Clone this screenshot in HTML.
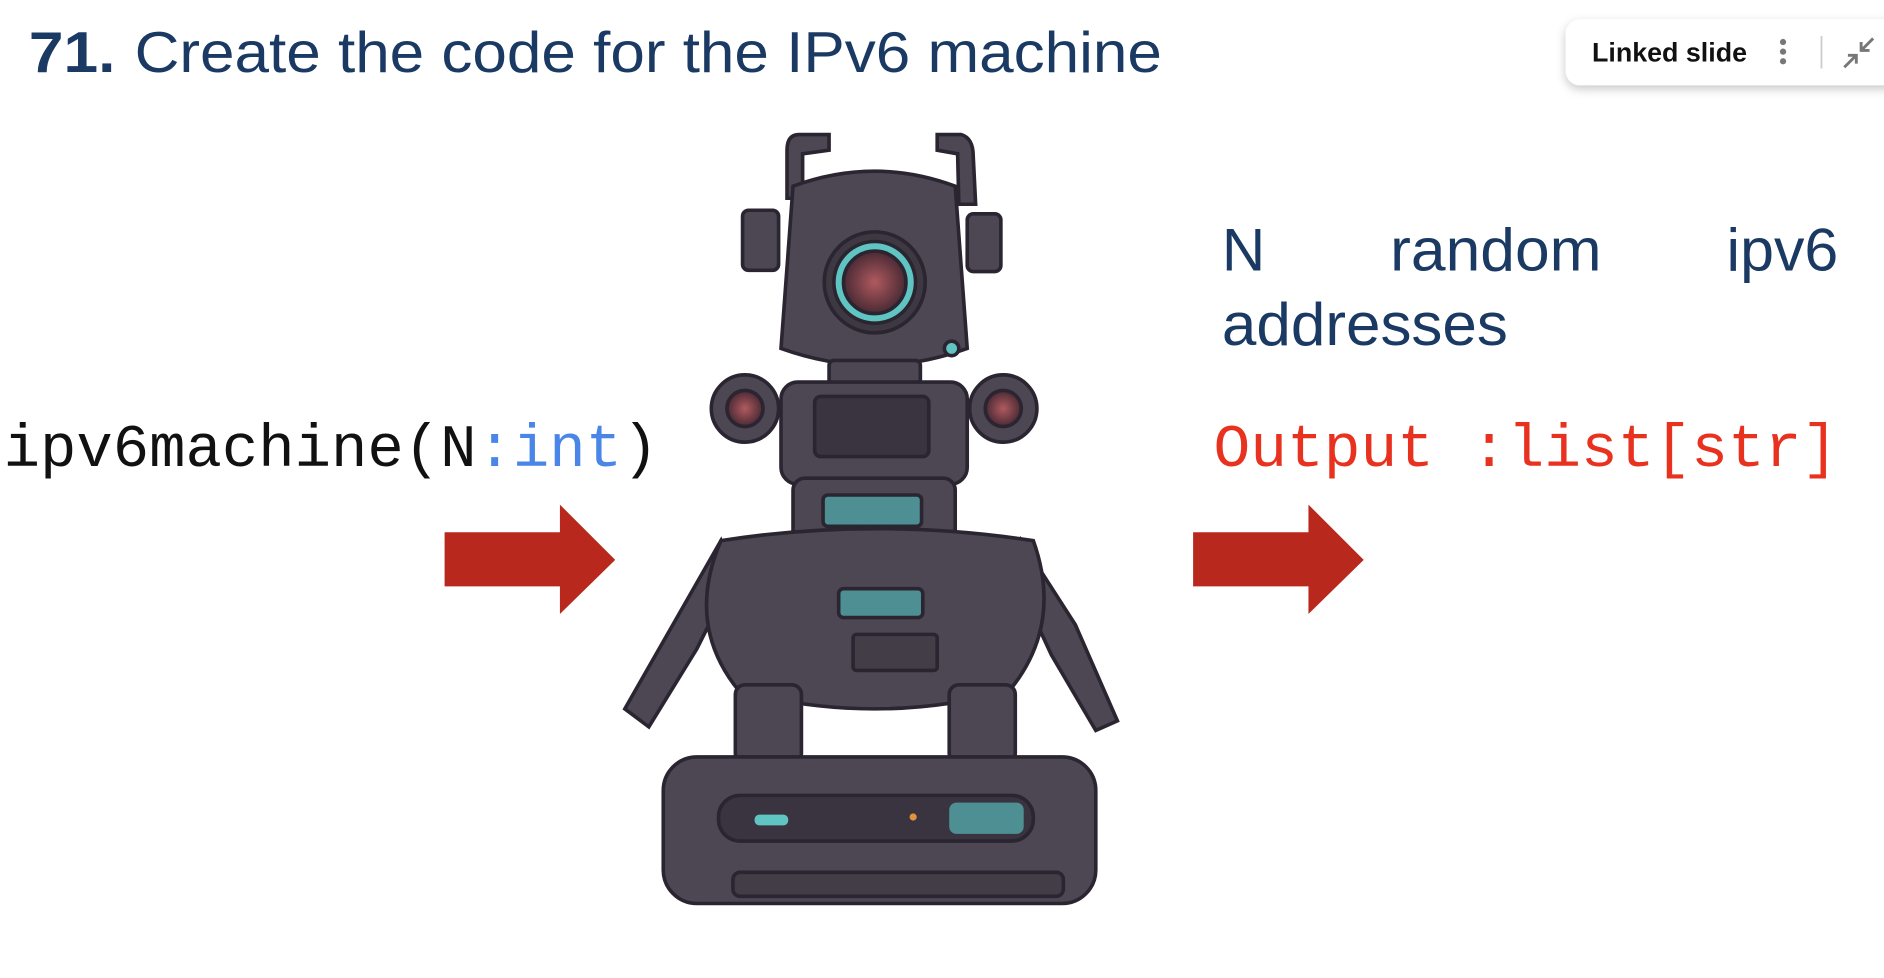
<!DOCTYPE html>
<html><head><meta charset="utf-8"><style>
html,body{margin:0;padding:0;background:#fff;width:1884px;height:978px;overflow:hidden}
svg{display:block}
</style></head><body>
<svg width="1884" height="978" viewBox="0 0 1568 814" xmlns="http://www.w3.org/2000/svg">
<defs>
<filter id="sh" x="-20%" y="-40%" width="140%" height="200%"><feDropShadow dx="0" dy="3" stdDeviation="4" flood-color="#000" flood-opacity="0.22"/></filter>
<radialGradient id="eye" cx="50%" cy="50%" r="50%"><stop offset="0" stop-color="#b05a5e"/><stop offset="1" stop-color="#4a2a35"/></radialGradient>
</defs>
<rect width="1568" height="814" fill="#fff"/>
<!-- title -->
<text x="24" y="60" font-family="Liberation Sans, sans-serif" font-weight="bold" font-size="48" fill="#1b3a63" textLength="72" lengthAdjust="spacingAndGlyphs">71.</text>
<text x="112" y="60" font-family="Liberation Sans, sans-serif" font-size="48" fill="#1b3a63" textLength="855" lengthAdjust="spacingAndGlyphs">Create the code for the IPv6 machine</text>
<!-- linked slide -->
<rect x="1303" y="16" width="285" height="55" rx="12" fill="#fff" filter="url(#sh)"/>
<text x="1325" y="51" font-family="Liberation Sans, sans-serif" font-weight="bold" font-size="22" fill="#111" textLength="129" lengthAdjust="spacingAndGlyphs">Linked slide</text>
<circle cx="1484" cy="35" r="2.6" fill="#777"/><circle cx="1484" cy="43" r="2.6" fill="#777"/><circle cx="1484" cy="51" r="2.6" fill="#777"/>
<line x1="1516" y1="30" x2="1516" y2="57" stroke="#ccc" stroke-width="1.5"/>
<g stroke="#777" stroke-width="2.4" fill="none"><line x1="1535" y1="56" x2="1545" y2="46"/><polyline points="1538,46 1545,46 1545,53"/><line x1="1549" y1="42" x2="1559" y2="32"/><polyline points="1549,35 1549,42 1556,42"/></g>
<!-- left text -->
<text x="3" y="388" font-family="Liberation Mono, monospace" font-size="50" fill="#111" textLength="545" lengthAdjust="spacingAndGlyphs">ipv6machine(N<tspan fill="#4a86e8">:int</tspan>)</text>
<!-- right texts -->
<g font-family="Liberation Sans, sans-serif" font-size="50" fill="#1b3a63">
<text x="1017" y="225">N</text>
<text x="1157" y="225" textLength="176" lengthAdjust="spacingAndGlyphs">random</text>
<text x="1437" y="225" textLength="93" lengthAdjust="spacingAndGlyphs">ipv6</text>
<text x="1017" y="287" textLength="238" lengthAdjust="spacingAndGlyphs">addresses</text>
</g>
<text x="1010" y="388" font-family="Liberation Mono, monospace" font-size="50" fill="#e8321f" textLength="520" lengthAdjust="spacingAndGlyphs">Output :list[str]</text>
<!-- arrows -->
<polygon points="370,443 466,443 466,420 512,466 466,511 466,488 370,488" fill="#b8281c"/>
<polygon points="993,443 1089,443 1089,420 1135,466 1089,511 1089,488 993,488" fill="#b8281c"/>
<!-- robot -->
<g stroke="#2a2530" stroke-width="3" fill="#4d4653">
<!-- antennae -->
<path d="M690,112 L665,112 Q655,112 655,125 L655,165 L668,165 L668,128 L690,125 Z"/>
<path d="M780,112 L800,112 Q810,115 810,130 L812,170 L798,170 L797,128 L780,125 Z"/>
<!-- ears -->
<rect x="618" y="175" width="30" height="50" rx="5"/>
<rect x="805" y="178" width="28" height="48" rx="5"/>
<!-- head -->
<path d="M660,155 Q728,130 795,155 L805,290 Q728,318 650,290 Z"/>
<!-- eye -->
<circle cx="728" cy="235" r="42" fill="#3e3842"/>
<circle cx="728" cy="235" r="34" fill="#5fc4c2" stroke="#2a2530"/>
<circle cx="728" cy="235" r="26" fill="url(#eye)"/>
<circle cx="792" cy="290" r="6" fill="#5fc4c2"/>
<!-- neck -->
<rect x="690" y="300" width="76" height="25" rx="4"/>
<!-- shoulders -->
<circle cx="620" cy="340" r="28"/>
<circle cx="620" cy="340" r="15" fill="url(#eye)"/>
<circle cx="835" cy="340" r="28"/>
<circle cx="835" cy="340" r="15" fill="url(#eye)"/>
<!-- upper torso -->
<rect x="650" y="318" width="155" height="85" rx="14"/>
<rect x="678" y="330" width="95" height="50" rx="5" fill="#3a3440"/>
<!-- middle -->
<rect x="660" y="398" width="135" height="55" rx="10"/>
<rect x="685" y="412" width="82" height="26" rx="4" fill="#4e8f94"/>
<!-- arms -->
<path d="M600,450 L560,520 L520,590 L540,605 L580,540 L610,480 Z"/>
<path d="M850,450 L895,520 L930,600 L912,608 L875,545 L845,480 Z"/>
<!-- belly -->
<path d="M600,450 Q728,430 860,450 Q885,520 840,575 Q728,605 615,575 Q570,520 600,450 Z"/>
<rect x="698" y="490" width="70" height="24" rx="4" fill="#4e8f94"/>
<rect x="710" y="528" width="70" height="30" rx="3" fill="#433d48"/>
<!-- legs -->
<rect x="612" y="570" width="55" height="65" rx="8"/>
<rect x="790" y="570" width="55" height="65" rx="8"/>
<!-- base -->
<rect x="552" y="630" width="360" height="122" rx="28"/>
<rect x="598" y="662" width="262" height="38" rx="18" fill="#3a3440"/>
<rect x="790" y="668" width="62" height="26" rx="6" fill="#4e8f94" stroke="none"/>
<rect x="628" y="678" width="28" height="9" rx="4" fill="#5fc4c2" stroke="none"/>
<circle cx="760" cy="680" r="3" fill="#e0923c" stroke="none"/>
<rect x="610" y="726" width="275" height="20" rx="6" fill="#433d48"/>
</g>
</svg>
</body></html>
